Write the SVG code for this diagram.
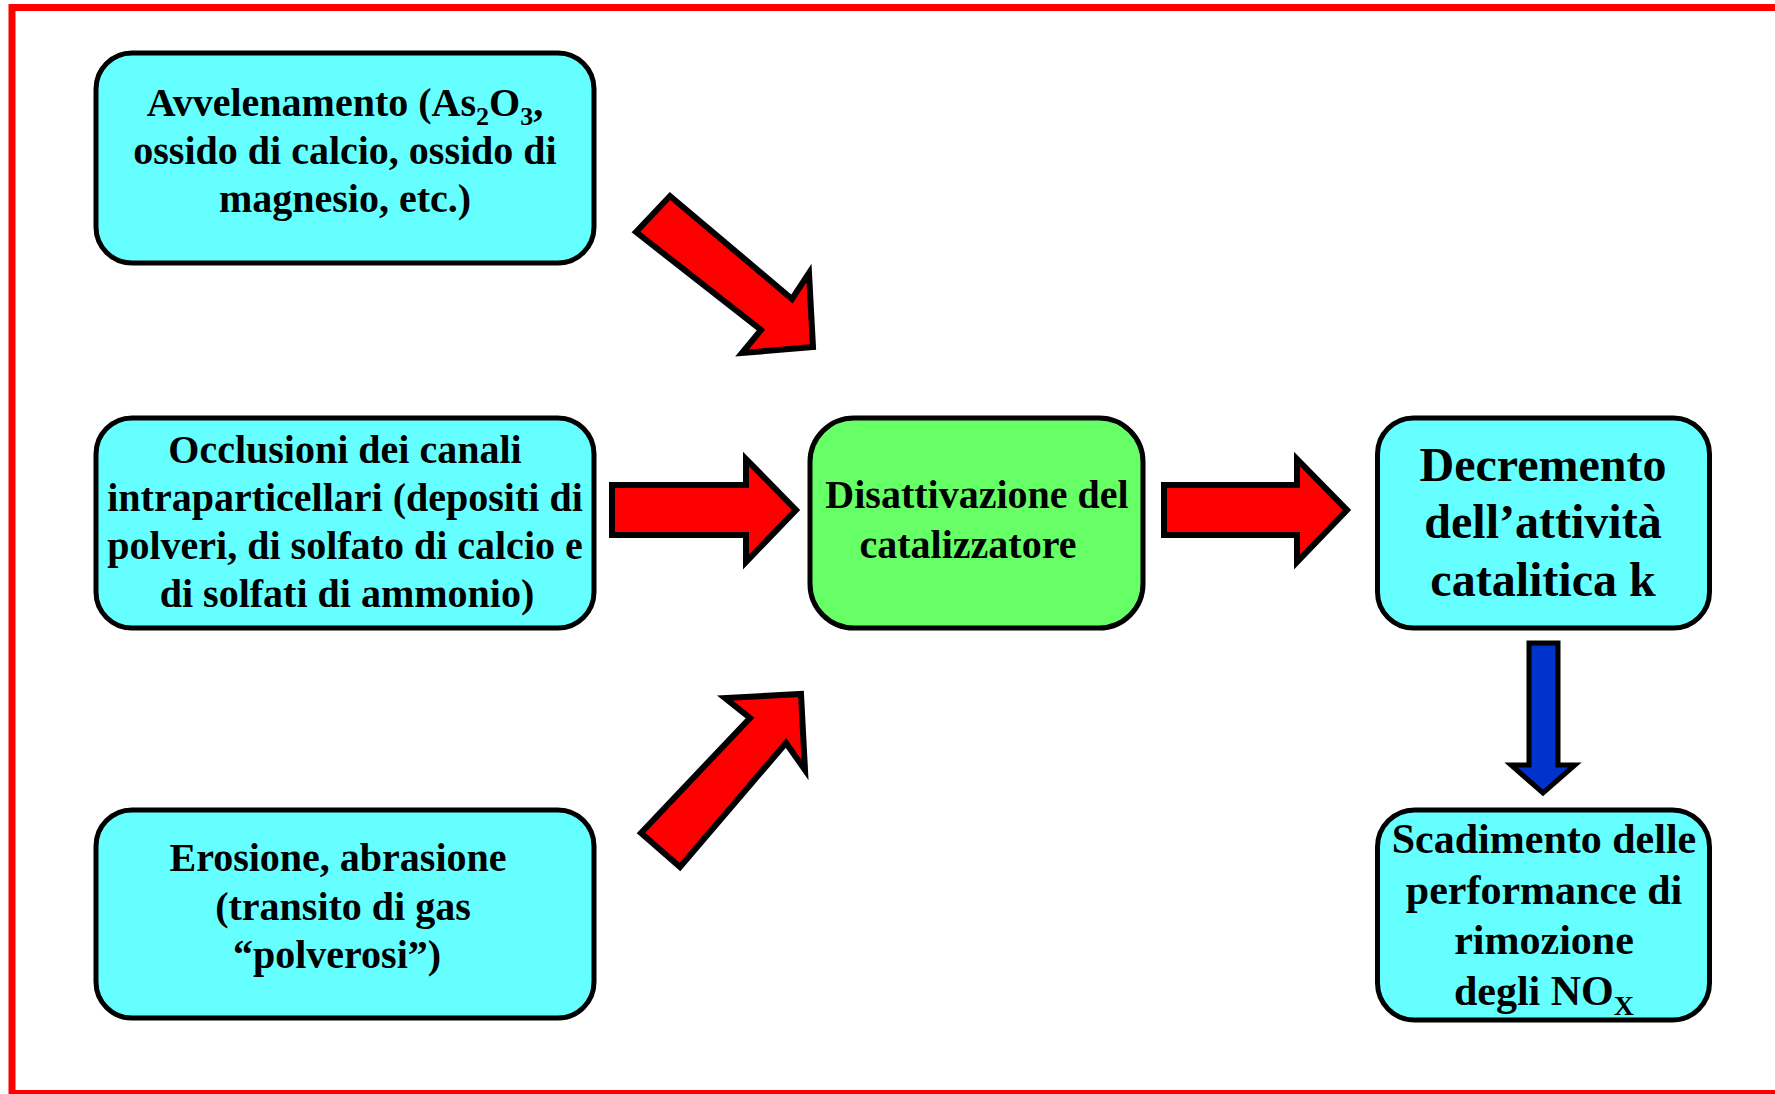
<svg xmlns="http://www.w3.org/2000/svg" width="1775" height="1094" viewBox="0 0 1775 1094">
<style>
.box{stroke:#000;stroke-width:5}
.cyan{fill:#66FFFF}
.green{fill:#66FF66}
.t{font-family:"Liberation Serif","Times New Roman",serif;font-weight:bold;fill:#000;text-anchor:middle}
.red{fill:#FF0000;stroke:#000;stroke-width:6;stroke-linejoin:miter}
.blue{fill:#0033CC;stroke:#000;stroke-width:5;stroke-linejoin:miter}
</style>
<rect x="0" y="0" width="1775" height="1094" fill="#fff"/>
<rect x="12" y="7.5" width="1800" height="1086" fill="none" stroke="#FF0000" stroke-width="7"/>

<g id="connectors">
<polygon class="red" points="636,232 670,196 792,299 809,273 813,347 742,353 761,330"/>
<polygon class="red" points="612,485 746,485 746,459 796,510 746,562 746,535 612,535"/>
<polygon class="red" points="641,833 680,867 786,743 805,770 801,694 725,698 750,718"/>
<polygon class="red" points="1164,485 1297,485 1297,459 1347,510 1297,562 1297,535 1164,535"/>
<polygon class="blue" points="1529,643 1558,643 1558,765 1575,765 1543,793 1511,765 1529,765"/>
</g>

<g id="n-avvelenamento">
<rect class="box cyan" x="96" y="53" width="498" height="210" rx="36"/>
<text class="t" font-size="40"><tspan x="345" y="116">Avvelenamento (As<tspan font-size="26" dy="9">2</tspan><tspan font-size="40" dy="-9">O</tspan><tspan font-size="26" dy="9">3</tspan><tspan font-size="40" dy="-9">,</tspan></tspan><tspan x="345" y="164">ossido di calcio, ossido di</tspan><tspan x="345" y="212">magnesio, etc.)</tspan></text>
</g>

<g id="n-occlusioni">
<rect class="box cyan" x="96" y="418" width="498" height="210" rx="36"/>
<text class="t" font-size="40"><tspan x="345" y="463">Occlusioni dei canali</tspan><tspan x="345" y="511">intraparticellari (depositi di</tspan><tspan x="345" y="559">polveri, di solfato di calcio e</tspan><tspan x="347" y="607">di solfati di ammonio)</tspan></text>
</g>

<g id="n-erosione">
<rect class="box cyan" x="96" y="810" width="498" height="208" rx="36"/>
<text class="t" font-size="40"><tspan x="338" y="871">Erosione, abrasione</tspan><tspan x="343" y="920">(transito di gas</tspan><tspan x="337" y="968">“polverosi”)</tspan></text>
</g>

<g id="n-disattivazione">
<rect class="box green" x="810" y="418" width="333" height="210" rx="44"/>
<text class="t" font-size="40"><tspan x="977" y="508">Disattivazione del</tspan><tspan x="968" y="558">catalizzatore</tspan></text>
</g>

<g id="n-decremento">
<rect class="box cyan" x="1377.5" y="418" width="332" height="210" rx="36"/>
<text class="t" font-size="48"><tspan x="1543" y="481">Decremento</tspan><tspan x="1543" y="538">dell’attività</tspan><tspan x="1543" y="596">catalitica k</tspan></text>
</g>

<g id="n-scadimento">
<rect class="box cyan" x="1377.5" y="810" width="332" height="210" rx="37"/>
<text class="t" font-size="42"><tspan x="1544" y="853">Scadimento delle</tspan><tspan x="1544" y="904">performance di</tspan><tspan x="1544" y="954">rimozione</tspan><tspan x="1544" y="1005">degli NO<tspan font-size="28" dy="10">X</tspan></tspan></text>
</g>
</svg>
